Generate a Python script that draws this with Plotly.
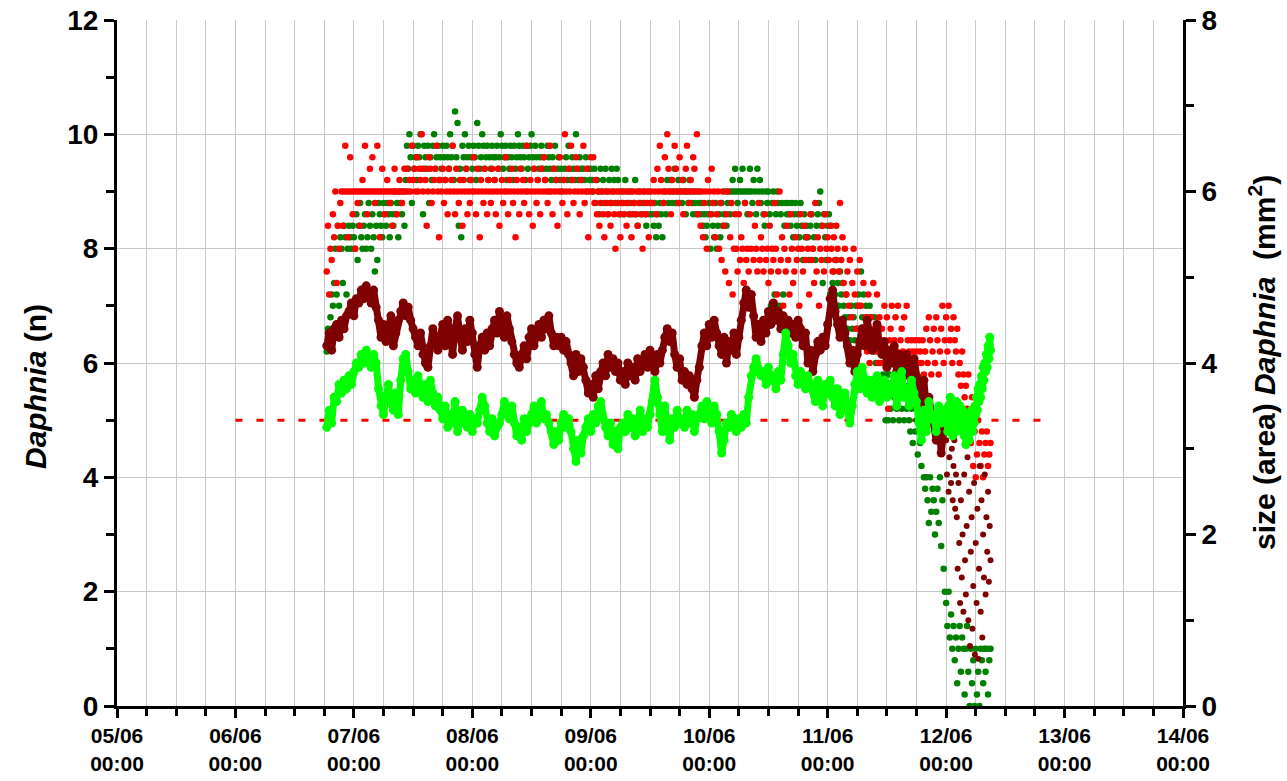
import pandas as pd
import plotly.graph_objects as go

# Daphnia counts, one value every 15 min from 06/06 18:30
n_red = [
    7.6, 8.4, 7.2, 8.0, 7.8, 8.6, 8.2, 9.0, 7.4, 8.4, 8.0, 8.8,
    9.0, 8.4, 9.0, 9.8, 9.0, 8.2, 9.0, 9.6,
    9.0, 8.6, 9.0, 8.0, 9.0, 8.8, 9.0, 8.4,
    9.0, 9.2, 9.0, 9.8, 9.0, 8.6, 9.0, 9.4,
    9.0, 9.6, 9.0, 8.8, 9.0, 9.8, 9.0, 8.2,
    9.0, 9.4, 9.0, 8.6, 9.0, 9.2, 9.0, 8.8,
    9.0, 8.4, 9.0, 9.4, 9.0, 8.6, 9.0, 9.2,
    9.0, 8.8, 9.0, 9.4,
    9.0, 9.4, 9.0, 9.2, 9.0, 9.8, 9.2, 9.4,
    9.0, 9.6, 9.0, 9.4, 9.2, 10.0, 9.0, 9.4,
    9.2, 8.4, 9.0, 9.6, 9.4, 8.8, 9.0, 9.2,
    9.4, 9.8, 9.0, 8.2, 9.2,
    9.0, 9.4, 8.8, 9.2, 9.0, 8.6, 9.4, 9.0,
    9.2, 9.8, 9.0, 8.6, 9.4, 9.0, 8.8, 9.2,
    9.0, 8.4, 9.2, 9.0, 9.4, 8.6, 9.0, 8.8,
    9.2, 9.0, 9.6, 9.0, 8.6, 9.4, 9.0, 8.2,
    9.2, 9.0, 8.8, 9.4, 9.0, 8.6, 9.2, 9.0,
    8.8, 9.4, 9.0, 9.2, 8.6, 9.0, 9.4, 8.4,
    9.0, 9.2, 8.8, 9.0, 9.6, 9.0, 8.6, 9.2,
    9.0, 9.4, 8.8, 9.0, 8.2, 9.2, 9.0, 8.6,
    9.4, 9.0, 9.2, 8.8, 9.0, 9.8, 9.0, 8.6,
    9.2, 9.0, 8.4, 9.4, 9.0, 8.8, 9.2, 9.0,
    8.6, 9.4, 9.0, 9.6, 9.2, 9.0, 8.8, 9.0,
    9.8, 9.0, 8.6, 9.4, 9.0, 9.2, 8.4, 9.0,
    9.6, 9.0, 8.8, 9.2, 10.0, 9.0, 8.6, 9.4,
    9.0, 9.8, 9.2, 8.8, 9.0, 9.6, 9.4, 9.0,
    8.6, 9.2, 9.0, 9.8, 8.8, 9.0, 9.4, 8.2,
    9.0, 9.6,
    9.0, 9.6, 8.8, 9.2, 8.6, 9.0, 8.4, 8.8,
    9.0, 8.6, 8.2, 9.0, 8.8, 8.6, 9.0, 8.4,
    8.8, 9.0, 8.6, 8.0, 9.0, 8.8, 8.6, 8.2,
    9.0, 8.8, 8.6, 9.0, 8.4, 8.8, 9.0, 8.6,
    8.2, 9.0, 8.8, 8.6, 9.0, 8.4, 8.8, 9.0,
    8.6, 8.0, 9.0, 8.8, 8.6, 9.0, 8.2, 8.8,
    9.0, 8.8, 9.2, 9.0, 8.6, 9.4, 9.0, 9.8,
    9.2, 9.0, 8.8, 9.6, 9.0, 10.0, 9.4, 9.0,
    8.6, 9.2, 9.0, 9.8, 9.4, 9.0, 8.8, 9.6,
    9.0, 9.2, 8.6, 9.0, 9.4, 9.8, 9.0, 8.8,
    9.2, 9.0, 9.6, 9.4, 9.0, 10.0, 8.6, 9.0,
    8.4, 9.0, 8.2, 8.8, 9.0, 8.0,
    9.2, 9.0, 8.6, 9.4, 8.8, 9.0, 8.2, 8.6,
    9.0, 8.0, 8.8, 7.8, 9.0, 8.4, 7.6, 8.6,
    9.0, 7.4, 8.2, 8.8, 7.2, 8.0, 8.6,
    8.0, 7.6, 8.6, 7.8, 8.2, 8.0, 7.4, 8.8,
    7.8, 8.0, 7.6, 8.6, 8.0, 7.2, 7.8, 8.4,
    8.0, 7.6, 8.8, 7.8, 8.2, 8.0, 7.6, 8.6,
    7.8, 8.0, 7.4, 8.4, 7.6, 8.0, 7.8, 8.8,
    8.0, 7.2, 7.6, 9.0, 7.8, 8.2, 7.0, 8.0,
    7.6, 8.4, 7.8, 7.2, 8.6, 8.0, 7.4, 7.6,
    8.2, 7.8, 8.0, 7.0, 8.6,
    8.0, 7.6, 8.4, 7.8, 8.2, 8.0, 7.2, 8.6,
    7.8, 8.0, 7.4, 8.8, 7.6, 8.2, 7.0, 8.0,
    7.8, 8.4, 7.6, 8.6, 8.0, 8.2, 7.8, 8.4,
    8.0, 7.6, 8.2, 7.8, 8.4, 8.0, 7.6, 8.8,
    7.8, 8.2, 7.4, 8.0, 7.2, 7.6, 7.0, 7.8,
    6.8, 7.4, 8.0, 7.2, 6.6, 7.6, 7.0, 7.8,
    7.0, 6.6, 7.4, 6.4, 6.8, 6.2, 7.2, 6.0,
    6.8, 6.4, 7.4, 6.6, 6.2, 7.2, 6.0, 6.8,
    6.4, 6.6, 6.0, 7.0, 6.2, 6.8, 5.2, 6.4,
    6.6, 7.0, 6.0, 6.4, 6.8, 6.2, 7.0, 6.0,
    6.4, 6.6, 6.2, 6.8, 6.0, 7.0, 6.4, 6.2,
    6.0, 6.4, 6.2, 6.0, 6.4, 6.2, 6.0, 6.4,
    6.2, 6.0, 6.4, 5.8, 6.2, 6.6, 6.0, 6.8,
    6.4, 5.8, 6.2, 6.6, 6.0, 6.8, 6.4, 5.8,
    6.2, 6.6, 7.0, 6.0, 6.4,
    6.8, 6.2, 7.0, 6.4, 6.6, 6.0, 6.8, 6.4,
    6.2, 6.6, 5.8, 6.0, 5.6, 6.2, 5.8, 5.4,
    5.6, 5.2, 5.8, 5.0, 4.6, 5.4, 4.2, 4.8,
    4.0, 4.4, 5.0, 4.6, 4.2, 4.8, 4.0, 4.4,
    4.6, 4.8, 4.2, 4.4, 4.6,
]

n_green = [
    6.2, 6.6, 6.4, 6.8, 7.2, 7.0, 7.4, 8.0, 7.2, 8.4, 7.0, 8.2,
    8.0, 7.4, 8.4, 8.2, 7.2, 8.0, 8.4, 8.2,
    8.0, 8.4, 8.2, 8.0, 8.6, 7.8, 8.4, 8.8,
    8.2, 8.0, 8.4, 8.6, 8.0, 8.2, 8.8, 8.4,
    8.0, 8.6, 8.2, 7.6, 8.4, 7.8, 8.8, 8.6,
    8.4, 8.2, 8.8, 8.6, 8.4, 8.8, 8.6, 8.2,
    8.8, 8.6, 8.4, 9.0, 8.6, 8.8, 8.2, 9.0,
    8.8, 8.6, 9.0, 8.4,
    9.2, 9.8, 9.4, 10.0, 9.6, 8.8, 9.8, 9.4,
    9.6, 9.2, 9.8, 9.6, 10.0, 9.4, 8.6, 9.8,
    9.6, 9.4, 9.8, 8.8, 9.6, 9.2, 9.8, 10.0,
    9.4, 9.6, 9.8, 9.2, 9.6, 9.4, 9.8, 9.6,
    9.2, 9.8, 9.6, 9.4, 10.0, 9.6, 9.8, 9.2,
    10.4, 9.6, 10.2, 8.4, 9.4, 8.2, 9.8, 9.6,
    10.0, 9.4, 9.6, 9.8, 9.2, 9.6, 9.4, 9.8,
    9.6, 9.2, 10.2, 9.8, 9.4, 9.6, 10.0, 9.8,
    9.4, 9.6, 9.8, 9.2, 9.6, 9.4, 9.8, 9.6,
    9.2, 9.6, 9.8, 9.4, 9.6, 10.0, 9.8, 9.4,
    9.6, 9.8, 9.2, 9.6, 9.4, 9.8, 9.6, 9.2,
    9.8, 9.4, 9.6, 10.0, 9.8, 9.6, 9.4, 9.8,
    9.6, 9.2, 9.8, 9.4, 9.6, 9.8, 10.0, 9.6,
    9.4, 9.8, 9.6, 9.2, 9.4, 9.6, 9.8, 9.4,
    9.6, 9.2, 9.4, 9.8, 9.6, 9.4, 9.2, 9.6,
    9.4, 9.8, 9.2, 9.4, 9.6, 9.2, 9.4, 9.0,
    9.2, 9.4, 9.6, 9.2, 9.8, 9.4, 9.2, 9.6,
    9.4, 9.2, 10.0, 9.4, 9.2, 9.6, 9.4, 9.2,
    9.4, 9.2, 9.6, 9.0, 9.4, 9.2, 9.4,
    9.2, 9.0, 9.4, 8.8, 9.2, 9.0, 8.6, 9.4,
    9.0, 9.2, 8.8, 9.4, 9.0, 8.6, 9.2, 8.8,
    9.4, 9.0, 9.2, 8.8, 9.4, 9.2, 9.0, 8.6,
    8.8, 9.0, 8.6, 9.2, 8.8, 9.0, 8.6, 8.8,
    9.0, 8.6, 8.8, 9.2, 8.6, 8.4, 9.0, 8.8,
    8.6, 8.8, 9.0, 8.6, 8.4, 8.8, 9.0, 8.6,
    8.8, 8.6, 8.4, 8.8, 8.2, 8.6, 8.4, 8.8,
    8.6, 8.2, 8.8, 9.0, 8.6, 9.2, 8.8, 9.0,
    9.2, 8.8, 9.0, 9.4, 8.8, 9.0, 9.2, 8.8,
    9.0, 8.8, 9.2, 9.0, 8.6, 9.0, 8.8, 9.2,
    9.0, 8.8, 8.6, 9.0, 8.8, 8.6, 9.0, 8.8,
    8.6, 8.8, 8.4, 8.6, 8.2, 8.4, 8.6,
    8.8, 8.0, 8.6, 8.4, 8.2, 8.8, 8.0, 8.4,
    8.6, 8.2, 8.8, 8.4, 8.6, 9.0, 8.4, 8.8,
    9.0, 8.6, 9.0, 9.2, 9.0, 9.4, 9.0, 8.8,
    9.0, 9.2, 9.0, 9.4, 9.0, 8.8, 9.0, 8.6,
    9.0, 9.4, 9.0, 8.8, 9.2, 9.0, 8.6, 9.4,
    9.0, 9.2, 8.8, 9.0, 8.6, 8.4, 9.0, 8.8,
    9.0, 8.6, 7.0, 8.8, 9.0, 7.2, 8.6, 9.0,
    8.8, 7.0, 8.6, 8.8, 7.2, 8.4, 8.8, 8.6,
    8.8, 8.6, 8.4, 8.8, 8.2, 8.6, 8.8, 8.4,
    8.6, 8.2, 8.8, 8.4, 7.8, 8.6, 8.2, 8.4,
    8.2, 7.8, 8.4, 8.6, 8.0, 8.2, 7.8, 8.4,
    8.6, 8.8, 9.0, 8.4, 7.4, 8.6, 8.2, 7.8, 8.4,
    8.6, 7.2, 8.4, 7.4, 7.6, 7.2, 7.8, 7.4,
    7.0, 7.6, 7.2, 7.4, 7.0, 6.8, 7.2, 6.6,
    6.8, 6.4, 7.0, 6.6, 6.8, 6.4, 7.0, 6.6,
    7.2, 7.0, 7.6, 6.8, 7.2, 6.4, 7.0, 6.8,
    6.6, 7.0, 6.8, 6.4, 6.2, 6.8, 6.0, 6.6,
    6.2, 6.4, 6.0, 6.2, 5.8, 6.0, 5.0, 5.8,
    5.0, 5.8, 5.2, 5.6, 5.0, 5.4, 5.6, 5.2,
    5.4, 5.0, 5.6, 5.2, 5.4, 5.0, 5.6, 5.2,
    5.4, 5.0, 4.8, 5.2, 4.6, 5.4, 4.8, 5.0,
    4.4, 5.2, 4.6, 4.2, 4.8, 4.0, 3.8, 4.0,
    3.6, 3.2, 4.0, 3.4, 3.8, 3.6, 3.0, 3.4,
    3.8, 3.2, 4.0, 2.8, 3.6, 2.4, 2.0,
    1.8, 1.4, 2.0, 1.2, 1.6, 1.0, 1.4, 0.8,
    1.2, 0.4, 1.0, 1.4, 0.6, 1.2, 1.0, 0.2,
    1.0, 1.4, 0.6, 0.0, 1.0, 0.4, 0.8, 0.0,
    1.0, 0.2, 0.6, 0.0, 1.0, 0.8, 0.4, 1.0,
    0.6, 1.0, 0.2, 0.8, 1.0,
]

# Daphnia size (mm2), one value every 30 min from 06/06 18:30 to 11/06 23:30
size_darkred = [
    4.2, 4.35, 4.15, 4.4, 4.45, 4.3, 4.5, 4.4, 4.55,
    4.6, 4.7, 4.55, 4.75, 4.7, 4.85, 4.75, 4.9, 4.8, 4.7, 4.85, 4.65,
    4.5, 4.3, 4.45, 4.25, 4.4, 4.55, 4.2, 4.35, 4.5,
    4.6, 4.7, 4.55, 4.65, 4.5, 4.4, 4.3,
    4.2, 4.35, 4.1, 4.0, 3.95, 4.2, 4.4, 4.3, 4.15,
    4.3, 4.45, 4.2, 4.5, 4.35, 4.1, 4.4, 4.55, 4.3, 4.15, 4.4, 4.25, 4.5, 4.35,
    4.1, 3.95, 4.2, 4.3, 4.15, 4.35, 4.2, 4.4,
    4.5, 4.35, 4.6, 4.45, 4.3, 4.55, 4.4, 4.25,
    4.1, 4.0, 3.95, 4.1, 4.2, 4.05, 4.3,
    4.4, 4.2, 4.35, 4.45, 4.3, 4.5, 4.4, 4.55, 4.35, 4.2, 4.3,
    4.2, 4.3, 4.15, 4.25, 4.1,
    4.0, 3.85, 4.1, 3.9, 4.05, 3.95,
    3.8, 3.65, 3.75, 3.6, 3.85, 3.7, 3.9,
    4.0, 3.85, 4.1, 3.95, 4.05, 3.9, 4.0, 3.8,
    3.9, 3.75, 4.0, 3.85, 3.95, 3.8, 4.05, 3.9,
    4.0, 4.1, 3.95, 4.15, 4.05, 3.9, 4.1, 4.0,
    4.15, 4.3, 4.4, 4.25, 4.35,
    4.1, 3.95, 4.05, 3.8, 3.9, 3.75, 3.85, 3.7, 3.6, 3.8,
    3.95, 4.2, 4.35, 4.2, 4.45, 4.3, 4.5, 4.35,
    4.2, 4.1, 4.3, 4.0, 4.25, 4.15, 4.35, 4.1, 4.3,
    4.5, 4.7, 4.85, 4.65, 4.8, 4.55, 4.3, 4.45, 4.25,
    4.5, 4.35, 4.6, 4.45, 4.7, 4.5, 4.6, 4.4,
    4.55, 4.4, 4.5, 4.35, 4.45, 4.3, 4.5, 4.4,
    4.2, 4.35, 4.0, 4.15, 3.9, 4.1, 4.25,
    4.15, 4.3, 4.2, 4.45, 4.75, 4.85, 4.6,
    4.45, 4.3, 4.5, 4.35, 4.2, 4.0, 4.15, 3.9, 4.1, 4.25,
    4.4, 4.2, 4.5, 4.35, 4.15, 4.3, 4.45, 4.2,
    4.1, 4.25, 3.95, 4.15, 4.0, 4.2, 3.9, 4.1,
    4.0, 3.85, 4.1, 3.9, 3.8, 4.05, 3.85,
    3.7, 3.5, 3.8, 3.45, 3.6, 3.4,
    3.3, 3.1, 3.4, 2.95, 3.2,
]

size_lightgreen = [
    3.25, 3.45, 3.3, 3.6, 3.55, 3.75, 3.65, 3.8, 3.7, 3.85, 3.75,
    3.9, 4.0, 3.95, 4.1, 4.0, 4.15, 4.05, 3.95, 4.1, 4.0,
    3.7, 3.5, 3.4, 3.6, 3.75, 3.55, 3.45, 3.65, 3.4,
    3.8, 4.05, 4.1, 3.9, 3.7,
    3.8, 3.65, 3.85, 3.7, 3.6, 3.75, 3.55, 3.8, 3.65, 3.5, 3.6, 3.45,
    3.35, 3.5, 3.25, 3.4, 3.3, 3.55, 3.2, 3.35, 3.45, 3.3,
    3.25, 3.4, 3.2, 3.35, 3.3, 3.45, 3.6, 3.5,
    3.3, 3.2, 3.35, 3.15, 3.25, 3.3,
    3.4, 3.55, 3.45, 3.35, 3.5,
    3.3, 3.15, 3.25, 3.1, 3.35, 3.2, 3.3,
    3.4, 3.5, 3.3, 3.45, 3.55, 3.35, 3.4, 3.3, 3.2,
    3.05, 3.2, 3.1, 3.3, 3.4, 3.25, 3.35, 3.2,
    3.0, 2.85, 3.1, 2.95, 3.15,
    3.25, 3.35, 3.2, 3.4, 3.3, 3.5, 3.55, 3.35, 3.25,
    3.15, 3.3, 3.05, 3.2, 3.0, 3.25,
    3.3, 3.2, 3.4, 3.25, 3.35, 3.15, 3.3, 3.45, 3.2, 3.35, 3.25, 3.4,
    3.55, 3.8, 3.6,
    3.4, 3.2, 3.5, 3.3, 3.1, 3.35, 3.25, 3.45, 3.3,
    3.35, 3.25, 3.45, 3.3, 3.4, 3.2, 3.35,
    3.4, 3.5, 3.35, 3.55, 3.45, 3.3, 3.5, 3.4,
    3.2, 2.95, 3.1, 3.3,
    3.25, 3.4, 3.3, 3.2, 3.35, 3.25, 3.4, 3.3,
    3.6, 3.85, 3.95, 4.05, 3.9, 3.85,
    3.9, 3.75, 3.95, 3.8, 3.85, 3.7, 3.9, 3.8,
    4.1, 4.35, 4.2, 4.0, 4.1,
    3.85, 3.75, 3.9, 3.8, 3.7, 3.85, 3.75,
    3.7, 3.55, 3.8, 3.6, 3.5, 3.75, 3.65,
    3.8, 3.6, 3.5, 3.7, 3.4, 3.55, 3.65, 3.45, 3.3, 3.5,
    3.75, 3.9, 3.7, 3.95, 3.8, 3.65,
    3.8, 3.6, 3.75, 3.85, 3.55, 3.7, 3.8, 3.6, 3.75,
    3.65, 3.85, 3.5, 3.75, 3.9, 3.6, 3.7, 3.5, 3.8, 3.65, 3.55,
    3.3, 3.1, 3.45, 3.2, 3.55, 3.35,
    3.4, 3.2, 3.5, 3.3, 3.45,
]

# size every 10 min, 12/06 00:00 - 09:00
size_darkred_end = [
    3.1, 2.7, 3.3, 2.5, 2.9, 3.2, 2.6, 3.0, 2.4, 2.8, 3.1, 2.3, 2.7,
    2.2, 1.6, 2.6, 1.9, 1.2, 2.4, 1.5, 2.0, 1.1, 2.7, 1.7, 1.3, 2.1,
    2.9, 1.0, 2.5, 0.7, 1.8, 2.2, 0.9, 1.4, 2.6, 0.6, 1.9, 1.2, 2.3,
    0.55, 1.6, 2.8, 1.1, 2.4, 0.8, 2.0, 1.5, 2.7, 1.3, 2.2, 1.8, 2.5, 1.45, 2.1, 1.7,
]
size_lightgreen_end = [
    3.3, 3.45, 3.2, 3.5, 3.35, 3.6, 3.25, 3.4, 3.15, 3.5, 3.3, 3.45, 3.2, 3.55, 3.35, 3.4, 3.25, 3.5,
    3.3, 3.2, 3.45, 3.25, 3.15, 3.35, 3.05, 3.3, 3.2, 3.4, 3.1, 3.3, 3.25, 3.45, 3.2, 3.35,
    3.3, 3.5, 3.4, 3.6, 3.45, 3.7, 3.55, 3.75, 3.6, 3.85, 3.7, 3.95, 3.8, 4.0, 3.9, 4.1,
    3.95, 4.2, 4.05, 4.3, 4.15,
]

threshold_n = 5
threshold_start = "2019-06-06 00:00"
threshold_end = "2019-06-12 21:00"

t_red = pd.date_range("2019-06-06 18:30", periods=len(n_red), freq="15min")
t_green = pd.date_range("2019-06-06 18:30", periods=len(n_green), freq="15min")
t_size = pd.date_range("2019-06-06 18:30", periods=len(size_darkred), freq="30min")
t_size_lg = pd.date_range("2019-06-06 18:30", periods=len(size_lightgreen), freq="30min")
t_end = pd.date_range("2019-06-12 00:00", periods=len(size_darkred_end), freq="10min")
t_end_lg = pd.date_range("2019-06-12 00:00", periods=len(size_lightgreen_end), freq="10min")

fig = go.Figure()

fig.add_trace(go.Scatter(x=[threshold_start, threshold_end], y=[threshold_n, threshold_n],
                         mode="lines", line=dict(color="#ff0000", width=3, dash="7px,14px")))
fig.add_trace(go.Scatter(x=t_green, y=n_green, mode="markers",
                         marker=dict(color="#008000", size=6.5)))
fig.add_trace(go.Scatter(x=t_red, y=n_red, mode="markers",
                         marker=dict(color="#ff0000", size=6.5)))
fig.add_trace(go.Scatter(x=t_size, y=size_darkred, mode="lines+markers", yaxis="y2",
                         line=dict(color="#7f0000", width=7),
                         marker=dict(color="#7f0000", size=9)))
fig.add_trace(go.Scatter(x=t_end, y=size_darkred_end, mode="markers", yaxis="y2",
                         marker=dict(color="#7f0000", size=6)))
fig.add_trace(go.Scatter(x=list(t_size_lg) + list(t_end_lg),
                         y=size_lightgreen + size_lightgreen_end,
                         mode="lines+markers", yaxis="y2",
                         line=dict(color="#00ff00", width=7),
                         marker=dict(color="#00ff00", size=9)))

grid = "#c8c8c8"
bold = dict(family="Liberation Sans, Arial, sans-serif", size=30, weight="bold", color="black")
fig.update_layout(
    width=1287, height=781,
    margin=dict(l=117, r=104, t=20, b=75, autoexpand=False),
    paper_bgcolor="white", plot_bgcolor="white",
    showlegend=False,
    font=dict(family="Liberation Sans, Arial, sans-serif", color="black"),
    xaxis=dict(
        type="date", range=["2019-06-05", "2019-06-14"], automargin=False,
        tick0="2019-06-05", dtick=86400000, tickformat="%d/%m<br>%H:%M",
        ticks="outside", ticklen=9, tickwidth=3, tickcolor="black",
        showline=True, linewidth=3, linecolor="black",
        showgrid=True, gridcolor=grid, gridwidth=1,
        tickfont=dict(size=21, weight="bold"), ticklabeloverflow="allow",
        minor=dict(dtick=6 * 3600 * 1000, ticks="outside", ticklen=7, tickwidth=3,
                   tickcolor="black", showgrid=True, gridcolor=grid, gridwidth=1),
        zeroline=False,
    ),
    yaxis=dict(
        range=[0, 12], dtick=2, tick0=0, automargin=False,
        ticks="outside", ticklen=10, tickwidth=3, tickcolor="black",
        showline=True, linewidth=3, linecolor="black",
        showgrid=True, gridcolor=grid, gridwidth=1, zeroline=False,
        tickfont=dict(size=28, weight="bold"), ticklabeloverflow="allow",
        minor=dict(dtick=1, ticks="outside", ticklen=8, tickwidth=3, tickcolor="black",
                   showgrid=False),
    ),
    yaxis2=dict(
        overlaying="y", side="right", anchor="x", automargin=False,
        range=[0, 8], dtick=2, tick0=0,
        ticks="outside", ticklen=10, tickwidth=3, tickcolor="black",
        showline=True, linewidth=3, linecolor="black",
        showgrid=False, zeroline=False,
        tickfont=dict(size=28, weight="bold"), ticklabeloverflow="allow",
        minor=dict(dtick=1, ticks="outside", ticklen=8, tickwidth=3, tickcolor="black"),
    ),
    annotations=[
        dict(text="<i>Daphnia</i> (n)", xref="paper", yref="paper",
             x=0, y=0.465, xshift=-82, xanchor="center", yanchor="middle",
             textangle=-90, showarrow=False, font=bold),
        dict(text="size (area) <i>Daphnia</i>  (mm<sup>2</sup>)", xref="paper", yref="paper",
             x=1, y=0.5, xshift=79, xanchor="center", yanchor="middle",
             textangle=-90, showarrow=False, font=bold),
    ],
)

# drop the default 8px page margin so the figure fills the window
fig.write_html("out.html", config={"displayModeBar": False},
               post_script="document.body.style.margin = '0';")
